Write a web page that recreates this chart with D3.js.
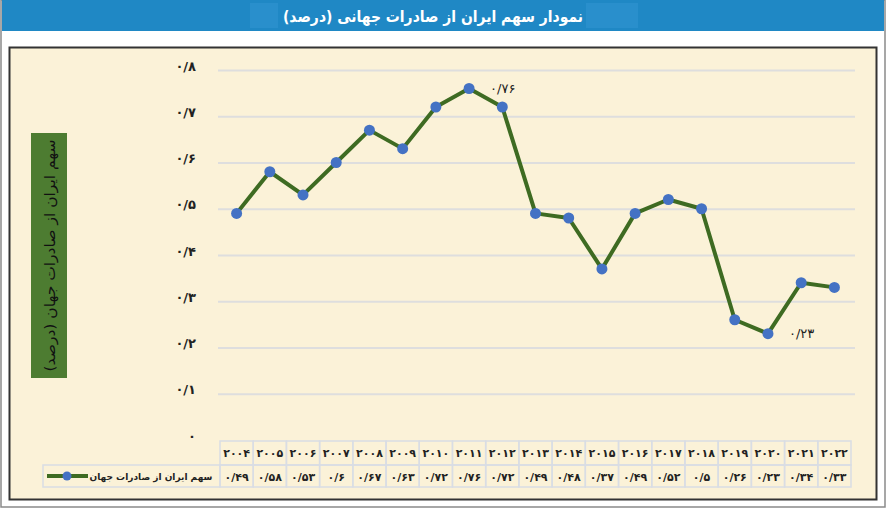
<html>
  <head>
    <meta charset="utf-8">
    <title>share</title>
    <script src="https://d3js.org/d3.v7.min.js"></script>
    <style>
      body { margin: 0; background: #fff; }
      text { font-family: "DejaVu Sans", sans-serif; }
    </style>
  </head>
  <body>
    <div id='wrapper'>
      <script>
        // data
        var years = [2004, 2005, 2006, 2007, 2008, 2009, 2010, 2011, 2012, 2013,
                     2014, 2015, 2016, 2017, 2018, 2019, 2020, 2021, 2022];
        var shares = [0.49, 0.58, 0.53, 0.6, 0.67, 0.63, 0.72, 0.76, 0.72, 0.49,
                      0.48, 0.37, 0.49, 0.52, 0.5, 0.26, 0.23, 0.34, 0.33];
        var yTicks = [0, 0.1, 0.2, 0.3, 0.4, 0.5, 0.6, 0.7, 0.8];
        var labelled = [2011, 2020];
        var title = "نمودار سهم ایران از صادرات جهانی (درصد)";
        var yTitle = "سهم ایران از صادرات جهان (درصد)";
        var seriesName = "سهم ایران از صادرات جهان";

        var fa = "۰۱۲۳۴۵۶۷۸۹";
        function toFa(s) {
          return String(s).replace(/[0-9]/g, function(c) { return fa[+c]; });
        }
        function fmtVal(v) {
          if (v == 0) { return toFa("0"); }
          var s = String(+v.toFixed(2)).replace("0.", "0/");
          return toFa(s);
        }

        var W = 888, H = 510;
        var svg = d3.select("#wrapper").append("svg")
          .attr("width", W).attr("height", H);

        // outer frame + title bar
        svg.append("rect").attr("x", 1).attr("y", 0).attr("width", 884).attr("height", 507)
           .attr("fill", "#fff").attr("stroke", "#8a8a8a").attr("stroke-width", 1.5);
        svg.append("rect").attr("x", 2).attr("y", 0).attr("width", 882).attr("height", 31)
           .attr("fill", "#1f88c5");
        svg.append("rect").attr("x", 250).attr("y", 3).attr("width", 28).attr("height", 25)
           .attr("fill", "#3a9ad6").attr("opacity", 0.4);
        svg.append("rect").attr("x", 586).attr("y", 3).attr("width", 52).attr("height", 25)
           .attr("fill", "#3a9ad6").attr("opacity", 0.4);
        svg.append("text").attr("x", 433).attr("y", 22)
           .attr("text-anchor", "middle").attr("direction", "rtl")
           .attr("fill", "#fff").attr("font-weight", "bold").attr("font-size", 16)
           .attr("textLength", 300).attr("lengthAdjust", "spacingAndGlyphs")
           .text(title);

        // chart panel
        svg.append("rect").attr("x", 9.5).attr("y", 47.5).attr("width", 867).attr("height", 452)
           .attr("fill", "#fbf2d8").attr("stroke", "#333").attr("stroke-width", 2);

        var x = d3.scaleBand().domain(years).range([220, 851]);
        var y = d3.scaleLinear().domain([0, 0.8]).range([440, 70]);

        // grid + y labels
        var grid = svg.append("g").attr("transform", "translate(218,0)")
          .call(d3.axisRight(y).tickValues(yTicks.filter(function(d) { return d > 0; }))
                  .tickSize(637).tickFormat(""));
        grid.select(".domain").remove();
        grid.selectAll("line").attr("stroke", "#dedede").attr("stroke-width", 2);

        var yAxis = svg.append("g").attr("transform", "translate(199,-4)")
          .call(d3.axisLeft(y).tickValues(yTicks).tickSize(0).tickFormat(fmtVal));
        yAxis.select(".domain").remove();
        yAxis.selectAll("text").attr("font-size", 13).attr("font-weight", "bold")
             .attr("fill", "#222").style("font-family", "DejaVu Sans");

        // y title box
        svg.append("rect").attr("x", 31).attr("y", 133).attr("width", 36).attr("height", 245)
           .attr("fill", "#4d7c31");
        svg.append("text").attr("transform", "translate(55,255.5) rotate(-90)")
           .attr("text-anchor", "middle").attr("direction", "rtl")
           .attr("font-size", 14).attr("fill", "#111")
           .attr("textLength", 232).attr("lengthAdjust", "spacingAndGlyphs")
           .text(yTitle);

        // data table
        var rowTop = 441, rowMid = 465, rowBot = 487;
        var tbl = svg.append("g");
        var cellStroke = "#d9dde4";
        years.forEach(function(yr, i) {
          tbl.append("rect").attr("x", x(yr)).attr("y", rowTop)
             .attr("width", x.bandwidth()).attr("height", rowMid - rowTop)
             .attr("fill", "none").attr("stroke", cellStroke).attr("stroke-width", 1.5);
          tbl.append("rect").attr("x", x(yr)).attr("y", rowMid)
             .attr("width", x.bandwidth()).attr("height", rowBot - rowMid)
             .attr("fill", "none").attr("stroke", cellStroke).attr("stroke-width", 1.5);
          tbl.append("text").attr("x", x(yr) + x.bandwidth() / 2).attr("y", rowTop + 16)
             .attr("text-anchor", "middle").attr("font-size", 11).attr("font-weight", "bold")
             .attr("fill", "#222").text(toFa(yr));
          tbl.append("text").attr("x", x(yr) + x.bandwidth() / 2).attr("y", rowMid + 16)
             .attr("text-anchor", "middle").attr("font-size", 11).attr("font-weight", "bold")
             .attr("fill", "#222").text(fmtVal(shares[i]));
        });
        // legend cell
        tbl.append("rect").attr("x", 43).attr("y", rowMid)
           .attr("width", 220 - 43).attr("height", rowBot - rowMid)
           .attr("fill", "none").attr("stroke", cellStroke).attr("stroke-width", 1.5);
        tbl.append("line").attr("x1", 47).attr("x2", 88)
           .attr("y1", rowMid + 11).attr("y2", rowMid + 11)
           .attr("stroke", "#3e6b22").attr("stroke-width", 4);
        tbl.append("circle").attr("cx", 67).attr("cy", rowMid + 11).attr("r", 4.5)
           .attr("fill", "#4472c4");
        tbl.append("text").attr("x", 151).attr("y", rowMid + 15)
           .attr("text-anchor", "middle").attr("direction", "rtl")
           .attr("font-size", 9).attr("font-weight", "bold").attr("fill", "#222")
           .text(seriesName);

        // series
        var pts = years.map(function(yr, i) { return { year: yr, v: shares[i] }; });
        var line = d3.line()
          .x(function(d) { return x(d.year) + x.bandwidth() / 2; })
          .y(function(d) { return y(d.v); });
        svg.append("path").datum(pts).attr("d", line)
           .attr("fill", "none").attr("stroke", "#3e6b22").attr("stroke-width", 4)
           .attr("stroke-linejoin", "round");
        svg.selectAll(".dot").data(pts).enter().append("circle")
           .attr("class", "dot")
           .attr("cx", function(d) { return x(d.year) + x.bandwidth() / 2; })
           .attr("cy", function(d) { return y(d.v); })
           .attr("r", 5.5).attr("fill", "#4472c4");

        svg.selectAll(".lbl").data(pts.filter(function(d) { return labelled.indexOf(d.year) >= 0; }))
           .enter().append("text").attr("class", "lbl")
           .attr("x", function(d) { return x(d.year) + x.bandwidth() / 2 + 21; })
           .attr("y", function(d) { return y(d.v) + 4; })
           .attr("font-size", 13).attr("fill", "#222")
           .text(function(d) { return fmtVal(d.v); });
      </script>
    </div>
  </body>
</html>
